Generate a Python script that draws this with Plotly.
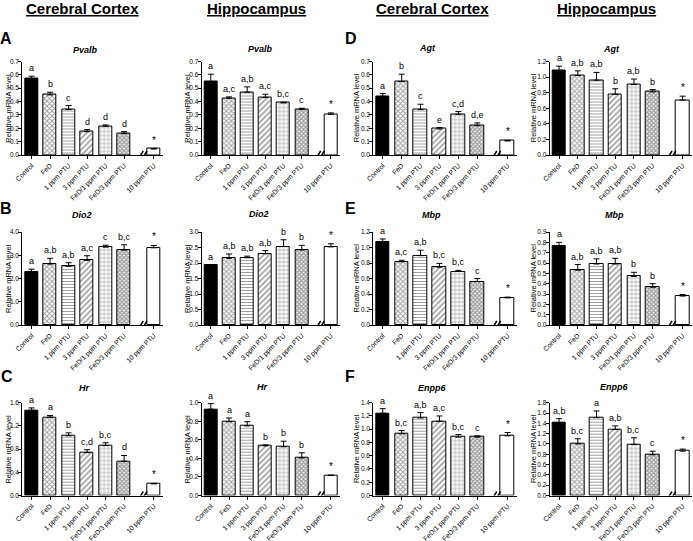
import plotly.graph_objects as go

W, H = 693, 541

categories = ["Control", "FeD", "1 ppm PTU", "3 ppm PTU", "FeD/1 ppm PTU", "FeD/3 ppm PTU", "10 ppm PTU"]
cat_pos = [0, 1, 2, 3, 4, 5, 6.6]

# ---- data ----
pvalb_ctx = [0.57, 0.45, 0.34, 0.175, 0.215, 0.16, 0.045]
pvalb_ctx_err = [0.02, 0.02, 0.03, 0.015, 0.01, 0.015, 0.003]
pvalb_ctx_lbl = ["a", "b", "c", "d", "d", "d", "*"]

pvalb_hip = [0.55, 0.425, 0.47, 0.43, 0.39, 0.34, 0.305]
pvalb_hip_err = [0.055, 0.01, 0.04, 0.025, 0.005, 0.01, 0.01]
pvalb_hip_lbl = ["a", "a,c", "a,b", "a,c", "b,c", "c", "*"]

agt_ctx = [0.44, 0.55, 0.34, 0.195, 0.305, 0.22, 0.105]
agt_ctx_err = [0.02, 0.055, 0.04, 0.01, 0.02, 0.02, 0.005]
agt_ctx_lbl = ["a", "b", "c", "e", "c,d", "d,e", "*"]

agt_hip = [1.08, 1.02, 0.96, 0.78, 0.905, 0.81, 0.705]
agt_hip_err = [0.06, 0.06, 0.10, 0.07, 0.07, 0.03, 0.05]
agt_hip_lbl = ["a", "a,b", "a,b", "b", "a,b", "b", "*"]

dio2_ctx = [2.28, 2.62, 2.53, 2.78, 3.35, 3.22, 3.32]
dio2_ctx_err = [0.12, 0.25, 0.15, 0.20, 0.08, 0.23, 0.10]
dio2_ctx_lbl = ["a", "a,b", "a,b", "a,c", "c", "b,c", "*"]

dio2_hip = [1.92, 2.15, 2.17, 2.30, 2.53, 2.42, 2.52]
dio2_hip_err = [0.03, 0.14, 0.05, 0.10, 0.22, 0.15, 0.10]
dio2_hip_lbl = ["a", "a,b", "a,b", "a,b", "b", "b", "*"]

mbp_ctx = [1.07, 0.815, 0.895, 0.745, 0.69, 0.56, 0.35]
mbp_ctx_err = [0.04, 0.02, 0.07, 0.05, 0.015, 0.04, 0.01]
mbp_ctx_lbl = ["a", "a,c", "a,b", "b,c", "b,c", "c", "*"]

mbp_hip = [0.76, 0.53, 0.59, 0.59, 0.47, 0.365, 0.28]
mbp_hip_err = [0.04, 0.055, 0.05, 0.055, 0.04, 0.035, 0.015]
mbp_hip_lbl = ["a", "a,b", "a,b", "a,b", "b", "b", "*"]

hr_ctx = [1.47, 1.35, 1.03, 0.74, 0.86, 0.59, 0.20]
hr_ctx_err = [0.04, 0.03, 0.05, 0.05, 0.05, 0.10, 0.01]
hr_ctx_lbl = ["a", "a", "b", "c,d", "b,c", "d", "*"]

hr_hip = [0.93, 0.795, 0.75, 0.535, 0.525, 0.405, 0.215]
hr_hip_err = [0.06, 0.04, 0.045, 0.01, 0.06, 0.055, 0.005]
hr_hip_lbl = ["a", "a", "a", "b", "b", "b", "*"]

enpp6_ctx = [1.24, 0.93, 1.17, 1.12, 0.88, 0.88, 0.90]
enpp6_ctx_err = [0.07, 0.05, 0.08, 0.08, 0.04, 0.02, 0.05]
enpp6_ctx_lbl = ["a", "b,c", "a,b", "a,c", "b,c", "c", "*"]

enpp6_hip = [1.41, 1.00, 1.51, 1.28, 0.99, 0.79, 0.86]
enpp6_hip_err = [0.08, 0.10, 0.13, 0.07, 0.13, 0.07, 0.04]
enpp6_hip_lbl = ["a,b", "b,c", "a", "a,b", "b,c", "c", "*"]

# ---- layout geometry (pixels) ----
col_x = [(22.3, 163), (201.7, 340), (373.3, 517), (549.7, 692)]
row_y = [(61.5, 155), (232, 325), (402.7, 495.5)]
ytitle_x = [8.5, 187.5, 356, 533]

panels = [
    # gene, col, row, values, errs, labels, ymax, dtick, title center (px)
    ("Pvalb", 0, 0, pvalb_ctx, pvalb_ctx_err, pvalb_ctx_lbl, 0.7, 0.1, (85, 50)),
    ("Pvalb", 1, 0, pvalb_hip, pvalb_hip_err, pvalb_hip_lbl, 0.7, 0.1, (260, 49)),
    ("Agt", 2, 0, agt_ctx, agt_ctx_err, agt_ctx_lbl, 0.7, 0.1, (427, 48)),
    ("Agt", 3, 0, agt_hip, agt_hip_err, agt_hip_lbl, 1.2, 0.2, (611, 49)),
    ("Dio2", 0, 1, dio2_ctx, dio2_ctx_err, dio2_ctx_lbl, 4.0, 1.0, (82, 215)),
    ("Dio2", 1, 1, dio2_hip, dio2_hip_err, dio2_hip_lbl, 3.0, 0.5, (259, 214)),
    ("Mbp", 2, 1, mbp_ctx, mbp_ctx_err, mbp_ctx_lbl, 1.2, 0.2, (431, 215)),
    ("Mbp", 3, 1, mbp_hip, mbp_hip_err, mbp_hip_lbl, 0.9, 0.1, (614, 215)),
    ("Hr", 0, 2, hr_ctx, hr_ctx_err, hr_ctx_lbl, 1.6, 0.4, (84, 388)),
    ("Hr", 1, 2, hr_hip, hr_hip_err, hr_hip_lbl, 1.0, 0.2, (262, 387)),
    ("Enpp6", 2, 2, enpp6_ctx, enpp6_ctx_err, enpp6_ctx_lbl, 1.4, 0.2, (432, 388)),
    ("Enpp6", 3, 2, enpp6_hip, enpp6_hip_err, enpp6_hip_lbl, 1.8, 0.2, (614, 387)),
]

FONT = "Arial, Liberation Sans, sans-serif"

bar_colors = ["black", "white", "white", "white", "white", "white", "white"]
pat_shapes = ["", "x", "-", "/", "+", "x", ""]
pat_sizes = [4, 3.5, 3, 4, 4, 3, 4]
pat_solid = [0.3, 0.5, 0.35, 0.45, 0.3, 0.7, 0.3]


def px_x(p):
    return p / W


def px_y(p):
    return 1 - p / H


fig = go.Figure()
annotations = []
shapes = []
layout_axes = {}

for i, (gene, c, r, vals, errs, lbls, ymax, dtick, tpos) in enumerate(panels):
    n = i + 1
    xs = "" if n == 1 else str(n)
    xa, ya = "x" + xs, "y" + xs
    fig.add_trace(go.Bar(
        x=cat_pos, y=vals, width=0.72, xaxis=xa, yaxis=ya,
        marker=dict(color=bar_colors, line=dict(color="black", width=1),
                    pattern=dict(shape=pat_shapes, size=pat_sizes, solidity=pat_solid,
                                 fgcolor="black", bgcolor="white", fillmode="overlay")),
        error_y=dict(type="data", array=errs, arrayminus=[0] * len(errs), symmetric=False,
                     color="black", thickness=1, width=3),
        showlegend=False, hoverinfo="skip"))
    x0, x1 = col_x[c]
    y0, y1 = row_y[r]
    layout_axes["xaxis" + xs] = dict(
        domain=[px_x(x0), px_x(x1)], range=[-0.5, 7.1], anchor=ya,
        tickvals=cat_pos, ticktext=categories, tickangle=-45,
        tickfont=dict(size=6.8, family=FONT, color="black"),
        ticks="outside", ticklen=3, tickwidth=1, tickcolor="black",
        showline=True, linecolor="black", linewidth=1, showgrid=False, zeroline=False,
        fixedrange=True, automargin=False)
    layout_axes["yaxis" + xs] = dict(
        domain=[px_y(y1), px_y(y0)], range=[0, ymax], anchor=xa, dtick=dtick, tick0=0,
        tickformat=".1f", tickfont=dict(size=6.5, family=FONT, color="black"),
        ticks="outside", ticklen=3, tickwidth=1, tickcolor="black", ticklabelstandoff=-2,
        showline=True, linecolor="black", linewidth=1, showgrid=False, zeroline=False,
        fixedrange=True, automargin=False)
    # significance letters
    for xp, v, e, t in zip(cat_pos, vals, errs, lbls):
        annotations.append(dict(x=xp, y=v + e, xref=xa, yref=ya, text=t, showarrow=False,
                                yanchor="bottom", yshift=1,
                                font=dict(size=9 if t != "*" else 10, family=FONT, color="black")))
    # gene title
    annotations.append(dict(x=px_x(tpos[0]), y=px_y(tpos[1]), xref="paper", yref="paper",
                            text="<b><i>%s</i></b>" % gene, showarrow=False,
                            xanchor="center", yanchor="middle",
                            font=dict(size=9, family=FONT, color="black")))
    # y axis title
    annotations.append(dict(x=px_x(ytitle_x[c]), y=px_y((y0 + y1) / 2), xref="paper", yref="paper",
                            text="Relative mRNA level", textangle=-90, showarrow=False,
                            xanchor="center", yanchor="middle",
                            font=dict(size=7.5, family=FONT, color="black")))
    # axis break marks
    shapes.append(dict(type="rect", xref=xa, yref=ya, x0=5.88, x1=6.12,
                       ysizemode="pixel", yanchor=0, y0=-1.5, y1=1.5,
                       line=dict(width=0, color="white"), fillcolor="white", layer="above"))
    for bx in (5.9, 6.1):
        shapes.append(dict(type="line", xref=xa, yref=ya, xsizemode="pixel", xanchor=bx,
                           x0=-2.5, x1=2.5, ysizemode="pixel", yanchor=0, y0=-4, y1=4,
                           line=dict(color="black", width=1.5), layer="above"))

# column headers
for txt, cx in [("Cerebral Cortex", 82), ("Hippocampus", 256), ("Cerebral Cortex", 432), ("Hippocampus", 606)]:
    annotations.append(dict(x=px_x(cx), y=px_y(9), xref="paper", yref="paper",
                            text="<b><u>%s</u></b>" % txt, showarrow=False,
                            xanchor="center", yanchor="middle",
                            font=dict(size=15, family=FONT, color="black")))

# panel letters
for txt, lx, ly in [("A", 6, 38), ("D", 351, 38), ("B", 6, 208), ("E", 351, 208), ("C", 7, 376), ("F", 350, 376)]:
    annotations.append(dict(x=px_x(lx), y=px_y(ly), xref="paper", yref="paper",
                            text="<b>%s</b>" % txt, showarrow=False,
                            xanchor="center", yanchor="middle",
                            font=dict(size=16, family=FONT, color="black")))

fig.update_layout(width=W, height=H, autosize=False,
                  margin=dict(l=0, r=0, t=0, b=0, pad=0),
                  paper_bgcolor="white", plot_bgcolor="white",
                  bargap=0, annotations=annotations, shapes=shapes,
                  font=dict(family=FONT, color="black"),
                  **layout_axes)

fig.write_html("out.html", config={"displayModeBar": False},
               post_script="document.body.style.margin='0';document.body.style.padding='0';"
                           "document.body.style.overflow='hidden';")
